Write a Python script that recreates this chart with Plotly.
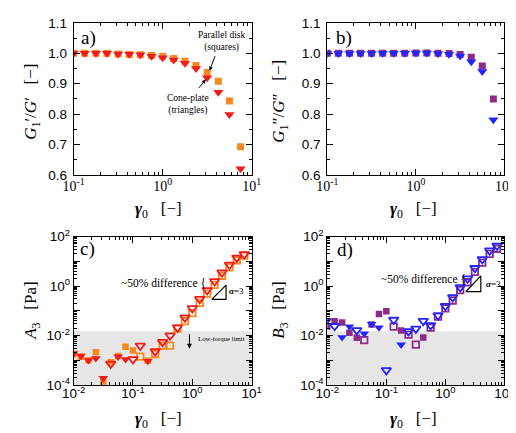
import math
import plotly.graph_objects as go

W, H = 516, 433

# ---------------- data ----------------
gamma_ab = [0.1, 0.133, 0.178, 0.237, 0.316, 0.422, 0.562, 0.75, 1.0, 1.33, 1.78, 2.37, 3.16, 4.22, 5.62, 7.5]
a_cone = [1.0, 1.0, 1.0, 1.0, 0.998, 0.997, 0.995, 0.99, 0.985, 0.978, 0.967, 0.95, 0.92, 0.872, 0.799, 0.621]
a_plate = [1.0, 1.0, 1.0, 1.0, 0.998, 0.996, 0.995, 0.993, 0.99, 0.983, 0.974, 0.96, 0.937, 0.908, 0.843, 0.693]
b_cone = [0.999, 0.999, 0.999, 0.999, 0.999, 1.0, 1.0, 1.0, 1.001, 1.001, 0.999, 0.997, 0.991, 0.972, 0.94, 0.782]
b_plate = [1.0, 1.0, 1.0, 1.0, 1.0, 1.0, 1.0, 1.0, 1.001, 1.001, 1.0, 0.999, 0.996, 0.987, 0.958, 0.85]

gamma_cd = [0.01, 0.0133, 0.0178, 0.0237, 0.0316, 0.0422, 0.0562, 0.075, 0.1, 0.133, 0.178, 0.237,
            0.316, 0.422, 0.562, 0.75, 1.0, 1.33, 1.78, 2.37, 3.16, 4.22, 5.62, 7.5]
c_cone = [1.9e-3, 1.5e-3, 1.0e-3, 1.2e-3, 1.9e-4, 7.2e-4, 1.4e-3, 1.1e-3, 1.1e-3, 3.9e-3, 9.3e-4, 2.3e-3,
          5.5e-3, 1.0e-2, 2.1e-2, 0.053, 0.126, 0.30, 0.68, 1.55, 3.5, 7.2, 14, 19]
c_cone_filled = [1, 1, 1, 1, 1, 0, 1, 1, 0, 0, 1, 0, 0, 0, 0, 0, 0, 0, 0, 0, 0, 0, 0, 0]
c_plate = [1.8e-3, 1.4e-3, 1.0e-3, 2.1e-3, 1.4e-4, 8.3e-4, 1.5e-3, 3.5e-3, 2.5e-3, 1.4e-3, 9.5e-4, 1.8e-3,
           3.9e-3, 3.9e-3, 1.9e-2, 0.038, 0.081, 0.21, 0.49, 1.12, 2.6, 5.7, 11, 17]
c_plate_filled = [1, 1, 1, 1, 1, 1, 1, 1, 1, 0, 1, 0, 0, 0, 0, 0, 0, 0, 0, 0, 0, 0, 0, 0]
d_cone = [0.041, 0.024, 8.5e-3, 0.023, 0.0165, 0.012, 0.029, 0.021, 4.0e-4, 0.043, 4.3e-3, 0.015,
          0.019, 0.039, 0.026, 0.065, 0.155, 0.35, 0.89, 2.0, 5.3, 12, 27, 42]
d_cone_filled = [1, 0, 1, 1, 0, 1, 1, 1, 0, 0, 1, 0, 0, 0, 0, 0, 0, 0, 0, 0, 0, 0, 0, 0]
d_plate = [0.023, 0.038, 0.034, 0.013, 8.2e-3, 6.5e-3, 0.028, 0.074, 0.097, 0.023, 0.016, 0.011,
           4.3e-3, 8.4e-3, 0.021, 0.058, 0.126, 0.26, 0.68, 1.42, 3.7, 8.9, 20, 32]
d_plate_filled = [1, 1, 1, 1, 1, 0, 1, 1, 1, 0, 1, 0, 0, 1, 0, 0, 0, 0, 0, 0, 0, 0, 0, 0]

low_torque_limit = 0.015

# slope-triangle guides (alpha = 3)
slope_c_x = [2.13, 3.7, 3.7, 2.13]
slope_c_y = [0.29, 0.29, 1.09, 0.29]
slope_d_x = [2.21, 3.98, 3.98, 2.21]
slope_d_y = [0.59, 0.59, 2.57, 0.59]

# ---------------- style ----------------
ORANGE = '#f5891f'
RED = '#f01c1c'
BLUE = '#2424ff'
PURPLE = '#8e2a88'
SERIF = 'Liberation Serif'
SANS = 'Liberation Sans'


def px(x):
    return x / W


def py(y):
    return 1 - y / H


fig = go.Figure()


def add_pts(x, y, filled, symbol, color, size, xa, ya):
    xf = [a for a, b, f in zip(x, y, filled) if f]
    yf = [b for a, b, f in zip(x, y, filled) if f]
    xo = [a for a, b, f in zip(x, y, filled) if not f]
    yo = [b for a, b, f in zip(x, y, filled) if not f]
    if xf:
        fig.add_trace(go.Scatter(x=xf, y=yf, mode='markers', xaxis=xa, yaxis=ya, showlegend=False,
                                 marker=dict(symbol=symbol, color=color, size=size, line=dict(width=0))))
    if xo:
        fig.add_trace(go.Scatter(x=xo, y=yo, mode='markers', xaxis=xa, yaxis=ya, showlegend=False,
                                 marker=dict(symbol=symbol + '-open', color=color, size=size,
                                             line=dict(width=1.8, color=color))))


n_ab = len(gamma_ab)
add_pts(gamma_ab, a_plate, [1] * n_ab, 'square', ORANGE, 7, 'x', 'y')
add_pts(gamma_ab, a_cone, [1] * n_ab, 'triangle-down', RED, 9, 'x', 'y')
add_pts(gamma_ab, b_plate, [1] * n_ab, 'square', PURPLE, 7, 'x2', 'y2')
add_pts(gamma_ab, b_cone, [1] * n_ab, 'triangle-down', BLUE, 9, 'x2', 'y2')

add_pts(gamma_cd, c_plate, c_plate_filled, 'square', ORANGE, 6.5, 'x3', 'y3')
add_pts(gamma_cd, c_cone, c_cone_filled, 'triangle-down', RED, 8.5, 'x3', 'y3')
add_pts(gamma_cd, d_plate, d_plate_filled, 'square', PURPLE, 6.5, 'x4', 'y4')
add_pts(gamma_cd, d_cone, d_cone_filled, 'triangle-down', BLUE, 8.5, 'x4', 'y4')

fig.add_trace(go.Scatter(x=slope_c_x, y=slope_c_y, mode='lines', xaxis='x3', yaxis='y3',
                         line=dict(color='black', width=1.2), showlegend=False))
fig.add_trace(go.Scatter(x=slope_d_x, y=slope_d_y, mode='lines', xaxis='x4', yaxis='y4',
                         line=dict(color='black', width=1.2), showlegend=False))


# ---------------- axes ----------------
def minor_log(lo, hi):
    vals = []
    for e in range(lo, hi):
        for m in range(2, 10):
            vals.append(m * 10.0 ** e)
    return vals


def base_axis(family=SANS, size=13.5, standoff=0, **kw):
    d = dict(showline=True, linecolor='black', linewidth=1, mirror='ticks', ticks='inside',
             ticklen=6, tickwidth=1, tickcolor='black', showgrid=False, zeroline=False,
             tickfont=dict(family=family, size=size, color='black'), ticklabelstandoff=standoff)
    d.update(kw)
    return d


def sup(e):
    return '10<sup>%d</sup>' % e


top_dom = [py(164), py(5)]
bot_dom = [py(383), py(228)]
left_dom = [px(56), px(242)]
right_dom = [px(321), px(506)]

MINOR = dict(ticks='inside', ticklen=3, tickcolor='black', tickwidth=1)
xa_top = dict(type='log', range=[-1, 1], tickvals=[0.1, 1, 10], ticktext=[sup(-1), sup(0), sup(1)],
              minor=dict(tickvals=minor_log(-1, 1), **MINOR))
ya_top = dict(range=[0.6, 1.1], tickvals=[0.6, 0.7, 0.8, 0.9, 1.0, 1.1],
              ticktext=['0.6', '0.7', '0.8', '0.9', '1.0', '1.1'],
              minor=dict(tickvals=[0.65, 0.75, 0.85, 0.95, 1.05], **MINOR))
xa_bot = dict(type='log', range=[-2, 1], tickvals=[0.01, 0.1, 1, 10], ticktext=[sup(-2), sup(-1), sup(0), sup(1)],
              minor=dict(tickvals=minor_log(-2, 1), **MINOR))
ya_bot = dict(type='log', range=[-4, 2], tickvals=[1e-4, 1e-3, 1e-2, 1e-1, 1, 10, 100],
              ticktext=[sup(-4), '', sup(-2), '', sup(0), '', sup(2)],
              minor=dict(tickvals=minor_log(-4, 2), **MINOR))

fig.update_layout(
    width=W, height=H, margin=dict(l=0, r=0, t=0, b=0),
    paper_bgcolor='white', plot_bgcolor='white',
    font=dict(family=SERIF, color='black'),
    xaxis=base_axis(family=SERIF, size=14, standoff=-2, domain=left_dom, anchor='y', **xa_top),
    yaxis=base_axis(standoff=3, domain=top_dom, anchor='x', **ya_top),
    xaxis2=base_axis(family=SERIF, size=14, standoff=-2, domain=right_dom, anchor='y2', **xa_top),
    yaxis2=base_axis(standoff=3, domain=top_dom, anchor='x2', **ya_top),
    xaxis3=base_axis(standoff=-4, domain=left_dom, anchor='y3', **xa_bot),
    yaxis3=base_axis(domain=bot_dom, anchor='x3', **ya_bot),
    xaxis4=base_axis(standoff=-4, domain=right_dom, anchor='y4', **xa_bot),
    yaxis4=base_axis(domain=bot_dom, anchor='x4', **ya_bot),
)

# low-torque grey regions
frac = (math.log10(low_torque_limit) + 4) / 6
for xr, yr in (('x3', 'y3'), ('x4', 'y4')):
    fig.add_shape(type='rect', xref=xr + ' domain', yref=yr + ' domain', x0=0, x1=1, y0=0, y1=frac,
                  fillcolor='#e6e6e6', line=dict(width=0), layer='below')

# ---------------- text ----------------
ann = []


def txt(x, y, s, size, xanchor='center', angle=0, yanchor='middle'):
    ann.append(dict(x=px(x), y=py(y), xref='paper', yref='paper', text=s, showarrow=False,
                    font=dict(family=SERIF, size=size, color='black'), xanchor=xanchor,
                    yanchor=yanchor, textangle=angle))


def arrow(x0, y0, x1, y1, size=0.8, head=2):
    ann.append(dict(x=px(x1), y=py(y1), xref='paper', yref='paper', ax=x0 - x1, ay=y0 - y1,
                    axref='pixel', ayref='pixel', text='', showarrow=True, arrowhead=head,
                    arrowsize=size, arrowwidth=1, arrowcolor='black'))


# panel labels
txt(72, 21, 'a)', 19)
txt(338, 21, 'b)', 19)
txt(71, 241, 'c)', 19)
txt(339, 242, 'd)', 19)

# axis titles
gam = '<i><b>γ</b></i><sub>0</sub>   [−]'
txt(145, 200, gam, 17)
txt(411, 200, gam, 17)
txt(145, 419, gam, 17)
txt(411, 419, gam, 17)
txt(13, 87, '<i>G</i><sub>1</sub>′/<i>G</i>′   [−]', 17, angle=-90)
txt(272, 87, '<i>G</i><sub>1</sub>″/<i>G</i>″   [−]', 17, angle=-90)
txt(13, 305, '<i>A</i><sub>3</sub>   [Pa]', 17, angle=-90)
txt(272, 305, '<i>B</i><sub>3</sub>   [Pa]', 17, angle=-90)

# panel a annotations
txt(210, 25, 'Parallel disk<br>(squares)', 9.5)
arrow(204, 39, 198, 55)
txt(175, 90, 'Cone-plate<br>(triangles)', 9.5)
arrow(186, 74, 194, 64)

# panel c/d annotations
txt(196, 276, '~50% difference {', 11.5, xanchor='right')
txt(216, 285, '<b><i>α</i></b>=3', 9, xanchor='left')
txt(468, 272, '~50% difference {', 11.5, xanchor='right')
txt(485, 278, '<b><i>α</i></b>=3', 9, xanchor='left')

arrow(177, 329, 177, 345, size=1, head=2)
txt(184, 334, 'Low-torque limit', 6.8, xanchor='left')

fig.update_layout(annotations=ann)

fig.write_html('out.html')
